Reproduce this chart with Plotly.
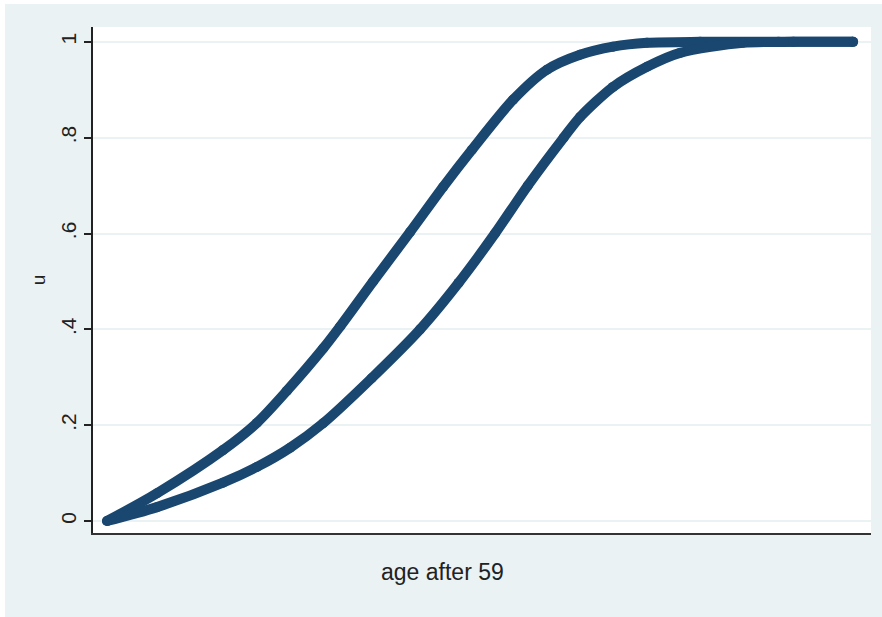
import plotly.graph_objects as go

# values (x = years after 59, y = u)
x_early = [0, 3.35, 7.77, 10.05, 12.06, 14.48, 15.62, 17.83, 20.31, 22.52,
           24.46, 27.21, 29.49, 31.70, 33.91, 36.19, 39.75, 45.0, 50.0]
u_early = [0, 0.058, 0.148, 0.205, 0.272, 0.360, 0.406, 0.500, 0.603, 0.697,
           0.775, 0.879, 0.942, 0.973, 0.990, 0.998, 1.0, 1.0, 1.0]

x_late = [0, 3.35, 7.77, 10.05, 12.27, 14.48, 17.73, 20.98, 23.56, 26.0, 28.2,
          30.6, 31.70, 33.91, 36.19, 38.40, 42.63, 46.0, 50.0]
u_late = [0, 0.029, 0.080, 0.113, 0.153, 0.204, 0.298, 0.400, 0.497, 0.600, 0.700,
          0.800, 0.843, 0.906, 0.948, 0.977, 0.998, 1.0, 1.0]

y_ticks = [0, 0.2, 0.4, 0.6, 0.8, 1]
y_tick_labels = ["0", ".2", ".4", ".6", ".8", "1"]

navy = "#1a476f"
bg = "#eaf2f3"

fig = go.Figure()
for xs, ys in [(x_early, u_early), (x_late, u_late)]:
    fig.add_trace(go.Scatter(
        x=xs, y=ys, mode="lines+markers",
        line=dict(color=navy, width=10, shape="spline", smoothing=0.8),
        marker=dict(color=navy, size=10),
        showlegend=False, hoverinfo="skip",
    ))

W, H = 882, 617
L, R, T, B = 93, 11, 27, 84
pw, ph = W - L - R, H - T - B

fig.update_layout(
    width=W, height=H,
    margin=dict(l=L, r=R, t=T, b=B),
    paper_bgcolor=bg, plot_bgcolor="white",
    font=dict(family="Liberation Sans, Arial, sans-serif", size=21, color="#222"),
    xaxis=dict(
        range=[-0.94, 51.2], showticklabels=False, ticks="", showgrid=False,
        zeroline=False, showline=True, linecolor="#333", linewidth=2,
    ),
    yaxis=dict(
        range=[-0.025, 1.031], tickvals=y_ticks, ticktext=y_tick_labels,
        tickangle=-90, ticks="outside", ticklen=7, tickcolor="#222", tickwidth=1.5,
        showgrid=True, gridcolor=bg, gridwidth=1.5, zeroline=False,
        showline=True, linecolor="#222", linewidth=1.5,
        title=dict(text="u", standoff=6, font=dict(size=19)),
    ),
    annotations=[dict(
        text="age after 59", xref="paper", yref="paper",
        x=(442 - L) / pw, y=(533 - 572) / ph, xanchor="center", yanchor="middle",
        showarrow=False, font=dict(size=23),
    )],
    shapes=[
        # thin white border at the left and top of the image
        dict(type="rect", xref="paper", yref="paper", line=dict(width=0), fillcolor="white",
             x0=-L / pw, x1=(5 - L) / pw, y0=-B / ph, y1=(T + ph) / ph),
        dict(type="rect", xref="paper", yref="paper", line=dict(width=0), fillcolor="white",
             x0=-L / pw, x1=(W - L) / pw, y0=(ph + T - 4) / ph, y1=(ph + T) / ph),
    ],
)

fig.write_html("out.html", config={"displayModeBar": False},
               post_script="document.body.style.margin='0px';")
